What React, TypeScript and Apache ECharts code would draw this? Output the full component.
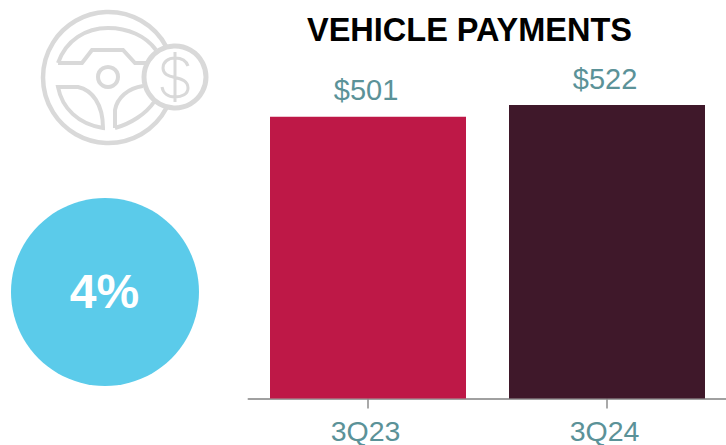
import React, { useEffect, useRef } from "react";
import * as echarts from "echarts";

const categories = ["3Q23", "3Q24"];
const payments = [501, 522];
const barColors = ["#BE1847", "#3F182A"];
const titleText = "VEHICLE PAYMENTS";
const changeText = "4%";

const FONT = '"Liberation Sans", Arial, sans-serif';
const TEAL = "#5B9298";
const ICON = "#D9D9D9";

const upperSpoke = "M58 63 C66 40 86 28 108 28 C128 28 146 36 156 50 M58 63 L82 63 L92 50 L123 50 L135 63 L148 63";
const lowerLeft = "M58 87 L78 87 C92 90 103 104 103 128 C78 124 62 108 58 87 Z";
const lowerRight = "M115 128 L115 110 C117 98 128 88 143 86 M115 128 C130 124 146 114 154 102";
const dollarS = "M188 66 C186 60 181 58 175 58 C168 58 163 62 163 68 C163 74 168 76 175 77.5 C182 79 188 81 188 88 C188 94 182 97 175 97 C168 97 163 93 162 87 M175 52 L175 102";

echarts.graphic.registerShape("iconUpper", echarts.graphic.extendPath(upperSpoke, {}));
echarts.graphic.registerShape("iconLeft", echarts.graphic.extendPath(lowerLeft, {}));
echarts.graphic.registerShape("iconRight", echarts.graphic.extendPath(lowerRight, {}));
echarts.graphic.registerShape("iconDollar", echarts.graphic.extendPath(dollarS, {}));

export default function App() {
  const ref = useRef<HTMLDivElement>(null);
  useEffect(() => {
    document.body.style.margin = "0";
    const chart = echarts.init(ref.current!, undefined, { renderer: "svg" });
    const line = { fill: "none", stroke: ICON, lineWidth: 4 };
    chart.setOption({
      animation: false,
      backgroundColor: "#fff",
      title: {
        text: titleText,
        left: 464.5,
        top: 8,
        textAlign: "center",
        textStyle: { fontFamily: FONT, fontSize: 32.5, fontWeight: "bold", color: "#000" },
      },
      grid: { left: 248.5, width: 478, top: 61.2, height: 337.3, containLabel: false, outerBoundsMode: "none" },
      xAxis: {
        type: "category",
        data: categories,
        axisLine: { lineStyle: { color: "#A0A0A0", width: 2 } },
        axisTick: { show: true, alignWithLabel: true, length: 10, lineStyle: { color: "#8C8C8C", width: 1.5 } },
        axisLabel: { color: TEAL, fontFamily: FONT, fontSize: 28.5, lineHeight: 24, margin: 20, padding: [0, 5, 0, 0], hideOverlap: false },
      },
      yAxis: { type: "value", min: 0, max: 600, show: false },
      series: [
        {
          type: "bar",
          barWidth: 196,
          data: payments.map((value, i) => ({ value, itemStyle: { color: barColors[i] } })),
          label: {
            show: true,
            position: "top",
            distance: 12,
            offset: [-2, 0],
            formatter: (p: any) => "$" + p.value,
            color: TEAL,
            fontFamily: FONT,
            fontSize: 29,
          },
        },
      ],
      graphic: [
        { type: "circle", shape: { cx: 108.5, cy: 77.5, r: 65.5 }, style: { ...line, lineWidth: 4.5 } },
        { type: "circle", shape: { cx: 108, cy: 77, r: 10 }, style: { ...line } },
        { type: "iconUpper", style: { ...line } },
        { type: "iconLeft", style: { ...line } },
        { type: "iconRight", style: { ...line } },
        { type: "circle", shape: { cx: 175, cy: 77, r: 31 }, style: { fill: "#fff", stroke: ICON, lineWidth: 5 } },
        { type: "iconDollar", style: { ...line, lineWidth: 3 } },
        { type: "circle", shape: { cx: 105, cy: 292, r: 94 }, style: { fill: "#5BCBEA" } },
        {
          type: "text",
          x: 104.5,
          y: 291,
          style: {
            text: changeText,
            fill: "#fff",
            font: `bold 48px ${FONT}`,
            align: "center",
            verticalAlign: "middle",
          },
        },
      ],
    });
    return () => chart.dispose();
  }, []);
  return <div ref={ref} style={{ width: 726, height: 445 }} />;
}
